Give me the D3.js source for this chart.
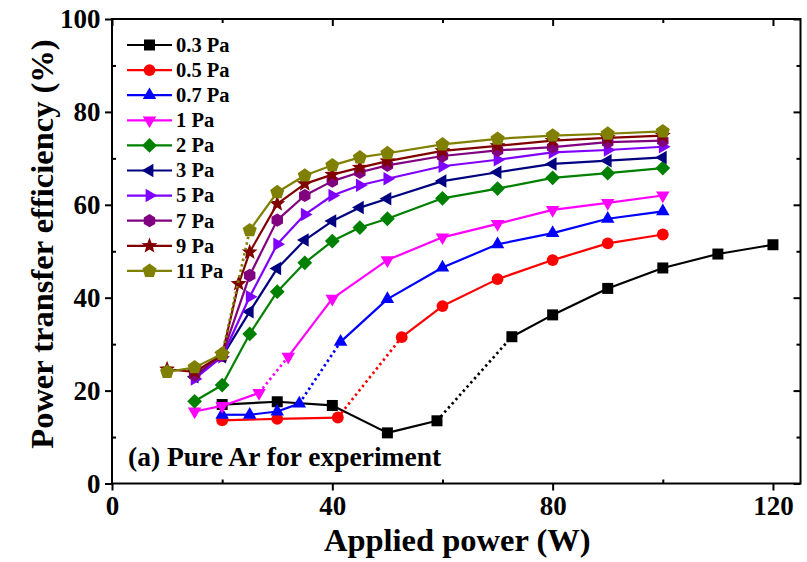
<!DOCTYPE html>
<html>
<head>
<meta charset="utf-8">
<script src="https://cdn.jsdelivr.net/npm/d3@7"></script>
<style>
  html, body { margin: 0; padding: 0; background: #fff; }
  svg text { font-family: "Liberation Serif", "Times New Roman", serif; font-weight: bold; fill: #000; }
</style>
</head>
<body>
<svg id="chart" width="807" height="562"></svg>
<script>
// Power transfer efficiency (%) vs applied power (W), pure Ar, per pressure
const pressures = ["0.3 Pa", "0.5 Pa", "0.7 Pa", "1 Pa", "2 Pa", "3 Pa", "5 Pa", "7 Pa", "9 Pa", "11 Pa"];

const power_03 = [20, 30, 40, 50, 59, 72.6, 80, 90, 100, 110, 120];
const eff_03   = [17.0, 17.6, 16.8, 10.9, 13.5, 31.6, 36.3, 42.0, 46.4, 49.4, 51.4];

const power_05 = [20, 30, 41, 52.6, 60, 70, 80, 90, 100];
const eff_05   = [13.6, 13.9, 14.2, 31.5, 38.2, 44.0, 48.1, 51.7, 53.6];

const power_07 = [20, 25, 30, 34, 41.5, 50, 60, 70, 80, 90, 100];
const eff_07   = [14.8, 14.8, 15.5, 17.2, 30.5, 39.7, 46.5, 51.5, 53.9, 57.0, 58.6];

const power_1 = [15, 20, 26.7, 32, 40, 50, 60, 70, 80, 90, 100];
const eff_1   = [15.5, 16.7, 19.5, 27.3, 39.8, 48.1, 53.0, 55.9, 58.9, 60.4, 62.0];

const power_2 = [15, 20, 25, 30, 35, 40, 45, 50, 60, 70, 80, 90, 100];
const eff_2   = [17.7, 21.2, 32.2, 41.3, 47.5, 52.2, 55.1, 57.0, 61.4, 63.5, 65.8, 66.8, 67.9];

const power_3 = [15, 20, 25, 30, 35, 40, 45, 50, 60, 70, 80, 90, 100];
const eff_3   = [23.0, 27.3, 37.0, 46.3, 52.4, 56.5, 59.4, 61.3, 65.1, 67.0, 68.8, 69.5, 70.2];

const power_5 = [15, 20, 25, 30, 35, 40, 45, 50, 60, 70, 80, 90, 100];
const eff_5   = [22.5, 27.3, 40.2, 51.5, 57.9, 62.0, 64.2, 65.6, 68.3, 69.7, 71.3, 71.8, 72.5];

const power_7 = [15, 20, 25, 30, 35, 40, 45, 50, 60, 70, 80, 90, 100];
const eff_7   = [23.3, 27.6, 44.8, 56.7, 62.0, 65.1, 67.0, 68.5, 70.5, 71.7, 72.4, 73.5, 73.8];

const power_9 = [10, 15, 20, 23, 25, 30, 35, 40, 45, 50, 60, 70, 80, 90, 100];
const eff_9   = [24.6, 24.0, 27.7, 43.0, 49.8, 60.2, 64.5, 66.5, 68.0, 69.4, 71.6, 72.7, 73.8, 74.4, 74.9];

const power_11 = [10, 15, 20, 25, 30, 35, 40, 45, 50, 60, 70, 80, 90, 100];
const eff_11   = [24.0, 25.0, 27.9, 54.5, 62.7, 66.3, 68.5, 70.2, 71.1, 73.0, 74.2, 74.9, 75.3, 75.8];

// power at which an unmeasured (dotted) transition begins, per series
const jumpFrom = [59, 41, 34, 26.7, null, null, null, null, null, 20];

const xTicks = [0, 40, 80, 120];
const xMinor = [20, 60, 100];
const yTicks = [0, 20, 40, 60, 80, 100];
const yMinor = [10, 30, 50, 70, 90];

const xTitle = "Applied power (W)";
const yTitle = "Power transfer efficiency (%)";
const note = "(a) Pure Ar for experiment";

// styling
const colors = ["#000000", "#ff0000", "#0000ff", "#ff00ff", "#008000",
                "#000080", "#8000ff", "#800080", "#800000", "#808000"];
const shapes = ["square", "circle", "tri-up", "tri-down", "diamond",
                "tri-left", "tri-right", "hexagon", "star", "pentagon"];

const powers = [power_03, power_05, power_07, power_1, power_2, power_3, power_5, power_7, power_9, power_11];
const effs   = [eff_03, eff_05, eff_07, eff_1, eff_2, eff_3, eff_5, eff_7, eff_9, eff_11];

const series = pressures.map((name, i) => ({
  name,
  color: colors[i],
  shape: shapes[i],
  jump: jumpFrom[i],
  points: powers[i].map((p, k) => ({ p, e: effs[i][k] }))
}));

const svg = d3.select("#chart");
const W = 807, H = 562;
const m = { left: 112, right: 6.5, top: 19, bottom: 78.5 };

svg.append("rect").attr("width", W).attr("height", H).attr("fill", "#fff");

const x = d3.scaleLinear().domain([0, 125]).range([m.left, W - m.right]);
const y = d3.scaleLinear().domain([0, 100]).range([H - m.bottom, m.top]);

// marker shapes
function polygon(n, R, rot) {
  const pts = [];
  for (let k = 0; k < n; k++) {
    const a = rot + k * 2 * Math.PI / n;
    pts.push([R * Math.cos(a), R * Math.sin(a)]);
  }
  return "M" + pts.map(q => q.join(",")).join("L") + "Z";
}
function starPath(Ro, Ri) {
  const pts = [];
  for (let k = 0; k < 10; k++) {
    const a = -Math.PI / 2 + k * Math.PI / 5;
    const r = k % 2 ? Ri : Ro;
    pts.push([r * Math.cos(a), r * Math.sin(a)]);
  }
  return "M" + pts.map(q => q.join(",")).join("L") + "Z";
}
function markerPath(shape) {
  const up = -Math.PI / 2;
  switch (shape) {
    case "square": return "M-5.5,-5.5H5.5V5.5H-5.5Z";
    case "circle": return d3.symbol(d3.symbolCircle, 110)();
    case "tri-up": return polygon(3, 7.8, up);
    case "tri-down": return polygon(3, 7.8, -up);
    case "tri-left": return polygon(3, 7.8, Math.PI);
    case "tri-right": return polygon(3, 7.8, 0);
    case "diamond": return polygon(4, 7.4, up);
    case "hexagon": return polygon(6, 6.6, up);
    case "star": return starPath(8.4, 3.6);
    case "pentagon": return polygon(5, 7.4, up);
  }
}

const plot = svg.append("g");
const axisW = 2;

const tickStyle = g => {
  g.select(".domain").remove();
  g.selectAll(".tick line").attr("stroke", "#000").attr("stroke-width", axisW);
};

// bottom: major outward with labels, minor inward
svg.append("g").attr("transform", `translate(0,${y(0)})`)
  .call(d3.axisBottom(x).tickValues(xTicks).tickSize(7).tickPadding(5.8).tickFormat(d3.format("d")))
  .call(tickStyle)
  .selectAll("text").attr("font-size", 27);
svg.append("g").attr("transform", `translate(0,${y(0)})`)
  .call(d3.axisBottom(x).tickValues(xMinor).tickSize(-4).tickFormat(""))
  .call(tickStyle);

// left: major outward with labels, minor inward
svg.append("g").attr("transform", `translate(${x(0)},0)`)
  .call(d3.axisLeft(y).tickValues(yTicks).tickSize(7).tickPadding(4.5).tickFormat(d3.format("d")))
  .call(tickStyle)
  .selectAll("text").attr("font-size", 27);
svg.append("g").attr("transform", `translate(${x(0)},0)`)
  .call(d3.axisLeft(y).tickValues(yMinor).tickSize(-4).tickFormat(""))
  .call(tickStyle);

// top and right: mirrored inward ticks
svg.append("g").attr("transform", `translate(0,${y(100)})`)
  .call(d3.axisTop(x).tickValues(xTicks).tickSize(-7).tickFormat(""))
  .call(tickStyle);
svg.append("g").attr("transform", `translate(0,${y(100)})`)
  .call(d3.axisTop(x).tickValues(xMinor).tickSize(-4).tickFormat(""))
  .call(tickStyle);
svg.append("g").attr("transform", `translate(${x(125)},0)`)
  .call(d3.axisRight(y).tickValues(yTicks).tickSize(-7).tickFormat(""))
  .call(tickStyle);
svg.append("g").attr("transform", `translate(${x(125)},0)`)
  .call(d3.axisRight(y).tickValues(yMinor).tickSize(-4).tickFormat(""))
  .call(tickStyle);

svg.append("rect")
  .attr("x", x(0)).attr("y", y(100))
  .attr("width", x(125) - x(0)).attr("height", y(0) - y(100))
  .attr("fill", "none").attr("stroke", "#000").attr("stroke-width", axisW);

// series lines and markers
const line = d3.line().x(d => x(d.p)).y(d => y(d.e));
series.forEach(s => {
  const g = plot.append("g");
  d3.pairs(s.points).forEach(([a, b]) => {
    const dotted = s.jump !== null && a.p === s.jump;
    g.append("path")
      .attr("d", line([a, b]))
      .attr("fill", "none")
      .attr("stroke", s.color)
      .attr("stroke-width", dotted ? 2.7 : 2.2)
      .attr("stroke-dasharray", dotted ? "2.4,3.2" : null);
  });
  g.selectAll(".mk").data(s.points).join("path")
    .attr("class", "mk")
    .attr("transform", d => `translate(${x(d.p)},${y(d.e)})`)
    .attr("d", markerPath(s.shape))
    .attr("fill", s.color);
});
plot.raise();

// legend
const legend = svg.append("g");
series.forEach((s, i) => {
  const ly = 45 + i * 25.1;
  legend.append("line")
    .attr("x1", 127).attr("x2", 172).attr("y1", ly).attr("y2", ly)
    .attr("stroke", s.color).attr("stroke-width", 2.2);
  legend.append("path")
    .attr("transform", `translate(149.5,${ly})`)
    .attr("d", markerPath(s.shape))
    .attr("fill", s.color);
  legend.append("text")
    .attr("x", 176).attr("y", ly + 6.8)
    .attr("font-size", 20.5)
    .text(s.name);
});

// annotation and axis titles
svg.append("text")
  .attr("x", 128).attr("y", 466)
  .attr("font-size", 27.5)
  .text(note);

svg.append("text")
  .attr("x", (x(0) + x(125)) / 2 + 1).attr("y", 551)
  .attr("text-anchor", "middle")
  .attr("font-size", 32.5)
  .text(xTitle);

svg.append("text")
  .attr("transform", "translate(53,244) rotate(-90)")
  .attr("text-anchor", "middle")
  .attr("font-size", 32.5)
  .text(yTitle);
</script>
</body>
</html>
